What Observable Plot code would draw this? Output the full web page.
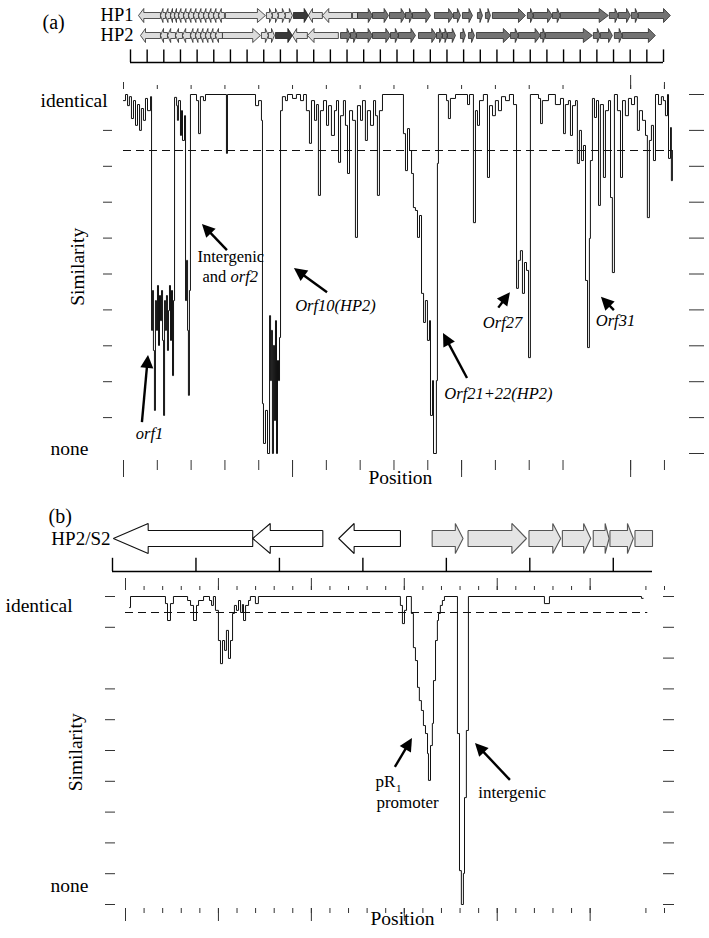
<!DOCTYPE html>
<html><head><meta charset="utf-8">
<script src="https://cdn.jsdelivr.net/npm/d3@7"></script>
<script src="https://cdn.jsdelivr.net/npm/@observablehq/plot@0.6"></script>
<style>
body{margin:0;background:#fff;}
#fig{width:709px;}
#fig svg{display:block;}
#fig svg text{font-family:'Liberation Serif','Times New Roman',Times,serif;}
</style></head><body><div id="fig"></div>
<script>
// ---------------- data ----------------
// gene maps: [start kb, end kb, direction (1 right, -1 left, 0 none), shade]
const hp1Genes = [
 [0.48,1.80,-1,"light"],[1.80,2.10,-1,"light"],[2.10,2.40,-1,"light"],[2.40,2.64,-1,"light"],[2.64,2.88,-1,"light"],
 [2.88,3.18,-1,"light"],[3.18,3.48,-1,"light"],[3.48,3.78,-1,"light"],[3.78,4.08,-1,"light"],[4.08,4.38,-1,"light"],
 [4.38,4.68,-1,"light"],[4.68,4.98,-1,"light"],[4.98,5.28,-1,"light"],[5.28,5.64,-1,"light"],
 [5.70,8.10,1,"light"],[8.16,8.52,1,"light"],[8.52,8.88,1,"light"],[8.88,9.30,1,"light"],[9.30,9.72,1,"light"],
 [9.78,10.68,1,"dark"],[10.68,11.52,-1,"light"],[11.52,13.27,-1,"light"],[13.33,13.63,0,"light"],
 [13.63,14.53,1,"gray"],[14.53,15.49,1,"gray"],[15.55,16.51,1,"gray"],[16.51,16.93,1,"gray"],[16.93,18.01,1,"gray"],
 [18.25,19.39,1,"gray"],[19.39,19.81,1,"gray"],[19.93,20.53,1,"gray"],[20.83,21.13,1,"gray"],[21.31,21.61,1,"gray"],
 [21.73,23.71,1,"gray"],[23.83,24.19,1,"gray"],[24.19,25.33,1,"gray"],[25.33,25.81,1,"gray"],[25.81,28.69,1,"gray"],
 [28.75,29.29,1,"gray"],[29.29,30.01,1,"gray"],[30.07,30.49,1,"gray"],[30.49,32.41,1,"gray"]
];
const hp2Genes = [
 [0.60,1.80,-1,"light"],[1.80,2.22,-1,"light"],[2.22,2.70,-1,"light"],[2.70,3.12,-1,"light"],[3.12,3.60,-1,"light"],
 [3.60,3.90,-1,"light"],[3.90,4.20,-1,"light"],[4.20,4.50,-1,"light"],[4.50,4.80,-1,"light"],[4.80,5.10,-1,"light"],
 [5.10,5.52,-1,"light"],[5.52,7.80,1,"light"],[7.86,8.28,1,"light"],[8.28,8.64,1,"light"],
 [8.70,9.72,1,"dark"],[9.72,10.62,-1,"light"],[10.62,12.48,-1,"light"],
 [12.61,13.21,1,"gray"],[13.21,13.57,1,"gray"],[13.57,14.53,1,"gray"],[14.53,15.61,1,"gray"],[15.61,16.09,1,"gray"],
 [16.09,17.11,1,"gray"],[17.29,18.37,1,"gray"],[18.37,18.73,1,"gray"],[18.73,19.03,1,"gray"],[19.03,19.51,1,"gray"],
 [19.81,20.11,1,"gray"],[20.29,20.65,1,"gray"],[20.77,22.81,1,"gray"],[22.81,23.29,1,"gray"],[23.29,24.61,1,"gray"],
 [24.61,24.91,1,"gray"],[24.91,27.73,1,"gray"],[27.79,28.21,1,"gray"],[28.21,28.93,1,"gray"],[29.05,29.53,1,"gray"],
 [29.53,31.51,1,"gray"]
];
const s2Genes = [
 [0.01,1.68,-1,"white"],[1.68,2.52,-1,"white"],[2.71,3.45,-1,"white"],
 [3.83,4.20,1,"pale"],[4.26,4.96,1,"pale"],[4.99,5.37,1,"pale"],[5.39,5.73,1,"pale"],
 [5.76,5.95,1,"pale"],[5.96,6.24,1,"pale"],[6.26,6.47,0,"pale"]
];
// similarity profiles: [position, similarity (0 none .. 1 identical)]
const simA = [
 [0,0.983],[0.12,1],[0.24,0.969],[0.35,0.994],[0.47,0.933],[0.59,0.983],[0.71,0.914],[0.83,0.972],[0.95,0.900],
 [1.06,0.961],[1.18,0.928],[1.30,0.989],[1.42,0.955],[1.60,0.994],[1.66,0.343],[1.72,0.454],[1.77,0.287],[1.83,0.120],
 [1.89,0.426],[1.95,0.343],[2.01,0.468],[2.07,0.301],[2.13,0.440],[2.19,0.370],[2.25,0.454],[2.31,0.315],[2.37,0.106],
 [2.43,0.426],[2.48,0.343],[2.54,0.440],[2.60,0.287],[2.66,0.398],[2.72,0.468],[2.78,0.315],[2.84,0.454],[2.90,0.217],
 [2.96,0.426],[3.02,0.992],[3.14,0.969],[3.19,0.928],[3.25,0.983],[3.37,0.886],[3.43,0.955],[3.49,0.872],[3.61,0.941],
 [3.67,0.426],[3.73,0.538],[3.79,0.343],[3.84,0.162],[3.90,0.454],[3.96,1],[4.32,0.983],[4.44,0.891],[4.55,0.994],
 [4.73,0.983],[4.85,1],[6.09,0.836],[6.15,1],[7.81,0.969],[7.99,0.983],[8.16,0.928],[8.22,0.139],[8.28,0.028],
 [8.40,0.120],[8.52,0],[8.64,0.384],[8.70,0.203],[8.75,0.343],[8.81,0],[8.87,0.301],[8.93,0.092],[8.99,0.370],
 [9.05,0],[9.11,0.259],[9.17,0.203],[9.23,0.323],[9.29,0.955],[9.40,0.994],[9.58,0.983],[9.70,1],[10.00,0.989],
 [10.23,1],[10.47,0.983],[10.65,1],[10.82,0.955],[11.00,0.864],[11.12,0.983],[11.30,0.928],[11.42,0.972],[11.53,0.719],
 [11.65,0.955],[11.83,0.983],[12.01,0.914],[12.13,0.969],[12.30,0.886],[12.48,0.955],[12.60,0.983],[12.72,0.811],
 [12.84,0.941],[13.01,0.983],[13.13,0.914],[13.25,0.780],[13.37,0.955],[13.55,0.928],[13.72,0.602],[13.84,0.969],
 [14.02,0.928],[14.14,0.983],[14.31,0.872],[14.43,0.955],[14.61,0.914],[14.79,0.983],[14.91,0.941],[15.02,0.719],
 [15.14,0.955],[15.32,1],[16.56,0.891],[16.68,0.788],[16.80,0.905],[16.92,0.844],[17.04,0.780],[17.15,0.685],
 [17.27,0.677],[17.39,0.602],[17.51,0.663],[17.63,0.446],[17.75,0.365],[17.86,0.426],[17.98,0.315],[18.10,0.370],
 [18.16,0.106],[18.28,0.203],[18.34,0],[18.51,0.203],[18.57,0.808],[18.63,1],[19.11,0.983],[19.22,0.933],[19.34,0.989],
 [19.64,1],[20.35,0.972],[20.47,1],[20.70,0.643],[20.82,0.955],[20.94,0.914],[21.06,0.983],[21.29,1],[21.53,0.769],
 [21.65,0.969],[21.83,0.941],[22.00,0.983],[22.18,0.955],[22.36,0.994],[22.60,0.983],[22.83,1],[23.07,0.972],
 [23.25,0.460],[23.36,0.538],[23.48,0.565],[23.60,0.446],[23.72,0.532],[23.84,0.510],[23.96,0.267],[24.07,1],
 [24.55,0.989],[24.67,0.919],[24.78,0.983],[25.14,1],[25.55,0.972],[25.85,0.989],[26.03,0.891],[26.14,0.972],
 [26.32,0.983],[26.44,0.886],[26.56,0.969],[26.74,0.983],[26.85,0.808],[26.97,0.900],[27.09,0.816],[27.21,0.858],
 [27.33,0.482],[27.45,0.295],[27.56,0.599],[27.62,0.816],[27.74,0.989],[27.86,0.936],[27.98,0.983],[28.10,0.691],
 [28.21,0.972],[28.39,0.769],[28.51,0.955],[28.69,0.983],[28.81,0.713],[28.92,0.504],[29.04,1],[29.22,0.955],
 [29.40,0.769],[29.52,0.983],[29.69,0.941],[29.87,0.989],[30.05,0.972],[30.23,0.994],[30.40,0.900],[30.52,0.955],
 [30.70,0.928],[30.88,0.886],[30.99,0.657],[31.11,0.872],[31.23,0.914],[31.35,0.816],[31.47,1],[31.65,0.972],
 [31.82,0.994],[31.94,0.983],[32.06,0.941],[32.18,1],[32.24,0.822],[32.36,0.908],[32.41,0.760],[32.47,0.844]
];
const simB = [
 [0.22,0.964],[0.27,1],[2.15,0.977],[2.26,0.922],[2.42,0.977],[2.58,1],[3.34,0.987],[3.50,0.971],[3.66,0.922],
 [3.82,0.971],[3.93,0.987],[4.20,1],[4.52,0.987],[4.63,0.971],[4.73,1],[4.84,0.955],[5.00,0.857],[5.11,0.782],
 [5.22,0.857],[5.33,0.825],[5.43,0.890],[5.54,0.799],[5.65,0.857],[5.76,0.945],[5.86,0.971],[5.97,0.955],[6.08,0.987],
 [6.19,0.948],[6.29,0.974],[6.35,0.922],[6.46,0.971],[6.62,0.987],[6.72,1],[6.99,0.977],[7.15,1],[14.79,0.971],
 [14.90,0.912],[15.01,0.955],[15.12,1],[15.38,0.945],[15.49,0.834],[15.60,0.792],[15.71,0.705],[15.81,0.662],
 [15.92,0.630],[16.03,0.581],[16.14,0.555],[16.25,0.490],[16.30,0.403],[16.41,0.516],[16.51,0.588],[16.57,0.727],
 [16.68,0.857],[16.78,0.922],[16.84,0.945],[16.94,0.971],[17.05,0.987],[17.16,1],[17.86,0.555],[17.97,0.110],
 [18.07,0],[18.18,0.101],[18.24,0.347],[18.34,0.565],[18.45,1],[22.54,0.977],[22.81,1],[27.76,0.994],[27.86,0.994]
];
const cutoffA = 0.844, cutoffB = 0.948;
const ticksA = [0,2,4,6,8,10,12,14,16,18,20,22,24,26,30,32];
const majorA = [0,10,20,30];
const ticksB = [0,1,2,3,4,5,6,7,8,9,10,11,12,13,14,15,16,17,18,19,20,21,22,23,24,25,28,29];
const majorB = [0,5,10,15,20,25];
const rulerA = d3.range(0, 33);
const rulerB = d3.range(0, 7);
const simTicks = d3.range(0, 11).map(i => i / 10);
const leftTicksA = [0.1,0.2,0.3,0.4,0.5,0.6,0.7,0.8,0.9];
const leftTicksB = [0,0.1,0.2,0.3,0.4,0.5,0.6,0.7,0.9,1];
// annotations and arrows (tail -> tip)
const labelsA = [
 {t:"Intergenic", x:4.38, y:0.549, it:false, a:"start"},
 {t:"and", x:4.67, y:0.493, it:false, a:"start"},
 {t:"orf2", x:6.33, y:0.493, it:true, a:"start"},
 {t:"Orf10(HP2)", x:12.54, y:0.412, it:true, a:"middle"},
 {t:"orf1", x:1.54, y:0.056, it:true, a:"middle"},
 {t:"Orf21+22(HP2)", x:22.18, y:0.167, it:true, a:"middle"},
 {t:"Orf27", x:22.42, y:0.365, it:true, a:"middle"},
 {t:"Orf31", x:29.10, y:0.370, it:true, a:"middle"}
];
const arrowsA = [
 {tail:[6.15,0.565], tip:[4.67,0.638]},
 {tail:[12.07,0.448], tip:[10.11,0.515]},
 {tail:[1.12,0.086], tip:[1.48,0.273]},
 {tail:[20.35,0.209], tip:[18.93,0.334]},
 {tail:[22.20,0.405], tip:[22.89,0.448]},
 {tail:[29.04,0.398], tip:[28.27,0.435]}
];
const labelsB = [
 {t:"pR", x:13.45, y:0.399, it:false, a:"start", s:17},
 {t:"1", x:14.55, y:0.378, it:false, a:"start", s:11},
 {t:"promoter", x:13.50, y:0.331, it:false, a:"start", s:17},
 {t:"intergenic", x:20.80, y:0.364, it:false, a:"middle", s:17}
];
const arrowsB = [
 {tail:[14.52,0.445], tip:[15.44,0.539]},
 {tail:[20.71,0.403], tip:[18.83,0.523]}
];

// ---------------- helpers ----------------
const FONT = "'Liberation Serif','Times New Roman',Times,serif";
const W = 709;
const shadeFill = {light:"#dcdcdc", dark:"#3a3a3a", gray:"#737373", white:"#ffffff", pale:"#e4e4e4"};
const shadeStroke = {light:"#2a2a2a", dark:"#1a1a1a", gray:"#2a2a2a", white:"#111", pale:"#555"};

function genePolys(genes, row, body, head, headLen) {
  const out = [];
  genes.forEach(([s, e, dir, shade], i) => {
    const len = e - s, h = Math.min(headLen(len), len);
    let poly;
    if (dir > 0) poly = [[s,-body],[e-h,-body],[e-h,-head],[e,0],[e-h,head],[e-h,body],[s,body],[s,-body]];
    else if (dir < 0) poly = [[e,-body],[s+h,-body],[s+h,-head],[s,0],[s+h,head],[s+h,body],[e,body],[e,-body]];
    else poly = [[s,-body],[e,-body],[e,body],[s,body],[s,-body]];
    poly.forEach(([x, dy]) => out.push({id: row + "-" + i, shade, x, y: row + dy}));
  });
  return out;
}
function geneMarks(polys, sw) {
  return Object.keys(shadeFill).map(sh => Plot.line(polys.filter(p => p.shade === sh), {
    x: "x", y: "y", z: "id", fill: shadeFill[sh], stroke: shadeStroke[sh], strokeWidth: sw,
    curve: "linear", strokeLinejoin: "miter", strokeLinecap: "butt"
  }));
}
function labelMarks(list, size) {
  const marks = [];
  for (const it of [false, true]) for (const a of ["start", "middle"]) {
    const sub = list.filter(d => d.it === it && d.a === a);
    if (sub.length) marks.push(Plot.text(sub, {x: "x", y: "y", text: "t", textAnchor: a, lineAnchor: "middle",
      fontFamily: FONT, fontSize: size ? size : d => d.s, fontStyle: it ? "italic" : "normal"}));
  }
  return marks;
}
function arrowMark(list) {
  return (index, scales) => {
    const g = d3.create("svg:g");
    for (const a of list) {
      const x1 = scales.x(a.tail[0]), y1 = scales.y(a.tail[1]);
      const x2 = scales.x(a.tip[0]), y2 = scales.y(a.tip[1]);
      const ang = Math.atan2(y2 - y1, x2 - x1), c = Math.cos(ang), s = Math.sin(ang);
      const L = 13, H = 6.5;
      const bx = x2 - L * c, by = y2 - L * s;
      g.append("line").attr("x1", x1).attr("y1", y1).attr("x2", bx + c).attr("y2", by + s)
        .attr("stroke", "#000").attr("stroke-width", 2.4);
      g.append("polygon").attr("points", `${x2},${y2} ${bx - H*s},${by + H*c} ${bx + H*s},${by - H*c}`)
        .attr("fill", "#000");
    }
    return g.node();
  };
}
const noLabel = () => "";
const fig = document.getElementById("fig");
const style = {fontFamily: FONT, background: "#fff", color: "#000", overflow: "visible"};
const T = {fontFamily: FONT, lineAnchor: "middle"};

// ---------------- panel (a) gene map ----------------
const headA = len => Math.min(len * 0.5, 0.12 + 0.15 * len);
const polysA = genePolys(hp1Genes, 0, 0.15, 0.35, headA).concat(genePolys(hp2Genes, 1, 0.15, 0.35, headA));
fig.append(Plot.plot({
  width: W, height: 70, marginLeft: 130, marginRight: 46, marginTop: 0, marginBottom: 0, style,
  x: {domain: [0, 32], axis: null}, y: {domain: [0, 1], range: [15, 35], axis: null},
  marks: [
    ...geneMarks(polysA, 0.8),
    Plot.ruleY([2.35], {x1: () => 0, x2: () => 32, stroke: "#000", strokeWidth: 1.5}),
    Plot.ruleX(rulerA, {x: d => d, y1: () => 1.72, y2: () => 2.35, stroke: "#000", strokeWidth: 1.4}),
    Plot.text(["(a)"], {...T, text: d => d, frameAnchor: "top-left", dx: -88, dy: 22, textAnchor: "start", fontSize: 20}),
    Plot.text(["HP1", "HP2"], {...T, text: d => d, y: (d, i) => i, frameAnchor: "left", dx: 3, textAnchor: "end", fontSize: 18.5})
  ]
}));

// ---------------- panel (a) similarity ----------------
fig.append(Plot.plot({
  width: W, height: 420, marginLeft: 112, marginRight: 21, marginTop: 18, marginBottom: 30, style,
  x: {domain: [0, 32.5], range: [123, 672.4], label: null},
  y: {domain: [0, 1], range: [383, 24], label: null},
  marks: [
    Plot.axisY(leftTicksA, {anchor: "left", tickSize: 9, tickFormat: noLabel, label: null, stroke: "#333"}),
    Plot.axisY(simTicks, {anchor: "right", tickSize: 15, tickFormat: noLabel, label: null, stroke: "#333"}),
    Plot.axisX(ticksA, {anchor: "top", tickSize: 4, tickFormat: noLabel, label: null, stroke: "#333"}),
    Plot.axisX([0, 32], {anchor: "top", tickSize: 7, tickFormat: noLabel, label: null, stroke: "#333"}),
    Plot.axisX([30], {anchor: "top", tickSize: 14, tickFormat: noLabel, label: null, stroke: "#333"}),
    Plot.axisX(ticksA, {anchor: "bottom", tickSize: 10, tickFormat: noLabel, label: null, stroke: "#333"}),
    Plot.axisX(majorA, {anchor: "bottom", tickSize: 17, tickFormat: noLabel, label: null, stroke: "#333"}),
    Plot.ruleY([cutoffA], {x1: () => 0, x2: () => 32.5, stroke: "#111", strokeWidth: 1.2, strokeDasharray: "8,5"}),
    Plot.line(simA, {x: d => d[0], y: d => d[1], curve: "step-after", stroke: "#111", strokeWidth: 1}),
    Plot.text(["identical"], {...T, text: d => d, frameAnchor: "left", y: () => 0.983, dx: -72, textAnchor: "start", fontSize: 19.5}),
    Plot.text(["none"], {...T, text: d => d, frameAnchor: "left", y: () => 0.014, dx: -62, textAnchor: "start", fontSize: 19.5}),
    Plot.text(["Similarity"], {...T, text: d => d, frameAnchor: "left", y: () => 0.52, dx: -35, rotate: -90, textAnchor: "middle", fontSize: 19.5}),
    Plot.text(["Position"], {...T, text: d => d, frameAnchor: "bottom", x: () => 16.38, dy: 17, textAnchor: "middle", fontSize: 19.5}),
    ...labelMarks(labelsA, 16.5),
    arrowMark(arrowsA)
  ]
}));

// ---------------- panel (b) gene map ----------------
const polysB = genePolys(s2Genes, 0, 0.242, 0.455, len => 0.25 * len);
fig.append(Plot.plot({
  width: W, height: 85, marginLeft: 112, marginRight: 57, marginTop: 0, marginBottom: 0, style,
  x: {domain: [0, 6.47], axis: null}, y: {domain: [0, 1], range: [48, 81], axis: null},
  marks: [
    ...geneMarks(polysB, 1.1),
    Plot.ruleY([1], {x1: () => 0, x2: () => 6.47, stroke: "#000", strokeWidth: 1.5}),
    Plot.ruleX(rulerB, {x: d => d, y1: () => 0.6, y2: () => 1, stroke: "#000", strokeWidth: 1.4}),
    Plot.text(["(b)"], {...T, text: d => d, frameAnchor: "top-left", dx: -64, dy: 26, textAnchor: "start", fontSize: 20}),
    Plot.text(["HP2/S2"], {...T, text: d => d, y: () => 0, frameAnchor: "left", dx: -2, textAnchor: "end", fontSize: 19})
  ]
}));

// ---------------- panel (b) similarity ----------------
fig.append(Plot.plot({
  width: W, height: 363, marginLeft: 115, marginRight: 47, marginTop: 14, marginBottom: 30, style,
  x: {domain: [0, 29], range: [125, 664], label: null},
  y: {domain: [0, 1], range: [329, 21], label: null},
  marks: [
    Plot.axisY(leftTicksB, {anchor: "left", tickSize: 10, tickFormat: noLabel, label: null, stroke: "#333"}),
    Plot.axisY(simTicks, {anchor: "right", tickSize: 11, tickFormat: noLabel, label: null, stroke: "#333"}),
    Plot.axisX(ticksB, {anchor: "top", tickSize: 4, tickFormat: noLabel, label: null, stroke: "#333"}),
    Plot.axisX(majorB, {anchor: "top", tickSize: 12, tickFormat: noLabel, label: null, stroke: "#333"}),
    Plot.axisX(ticksB, {anchor: "bottom", tickSize: 5, tickFormat: noLabel, label: null, stroke: "#333"}),
    Plot.axisX(majorB, {anchor: "bottom", tickSize: 13, tickFormat: noLabel, label: null, stroke: "#333"}),
    Plot.ruleY([cutoffB], {x1: () => 0, x2: () => 28.1, stroke: "#111", strokeWidth: 1.2, strokeDasharray: "8,5"}),
    Plot.line(simB, {x: d => d[0], y: d => d[1], curve: "step-after", stroke: "#111", strokeWidth: 1}),
    Plot.text(["identical"], {...T, text: d => d, frameAnchor: "left", y: () => 0.971, dx: -110, textAnchor: "start", fontSize: 19.5}),
    Plot.text(["none"], {...T, text: d => d, frameAnchor: "left", y: () => 0.062, dx: -65, textAnchor: "start", fontSize: 19.5}),
    Plot.text(["Similarity"], {...T, text: d => d, frameAnchor: "left", y: () => 0.494, dx: -40, rotate: -90, textAnchor: "middle", fontSize: 19.5}),
    Plot.text(["Position"], {...T, text: d => d, frameAnchor: "bottom", x: () => 14.9, dy: 10, textAnchor: "middle", fontSize: 19.5}),
    ...labelMarks(labelsB),
    arrowMark(arrowsB)
  ]
}));
</script></body></html>
